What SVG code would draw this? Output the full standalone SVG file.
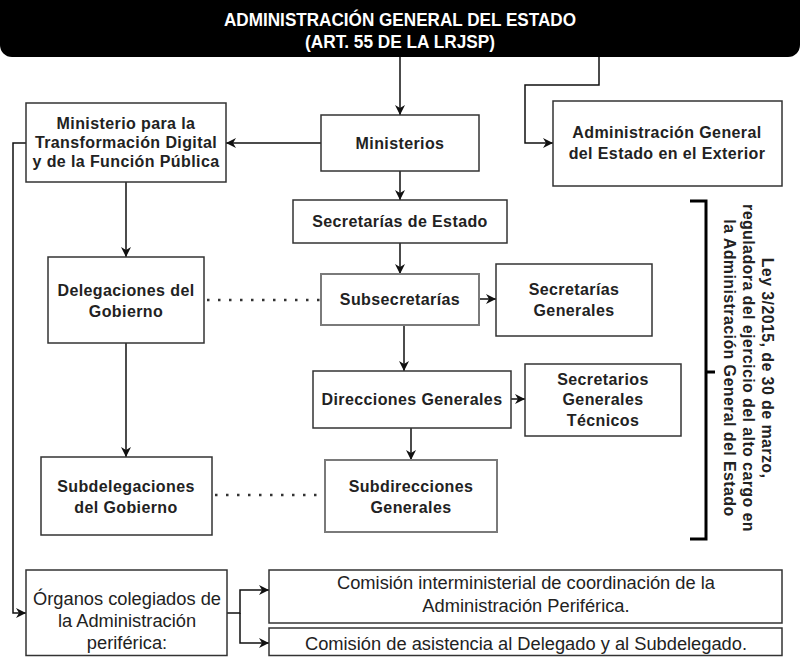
<svg xmlns="http://www.w3.org/2000/svg" width="800" height="657" viewBox="0 0 800 657">
<style>
.box{fill:#fff;stroke:#333;stroke-width:1.5}
.gbox{fill:#fff;stroke:#7a7a7a;stroke-width:2}
.t{font-family:"Liberation Sans",Arial,sans-serif;font-size:16px;font-weight:bold;fill:#222;text-anchor:middle;letter-spacing:0.4px}
.r{font-family:"Liberation Sans",Arial,sans-serif;font-size:18.3px;fill:#222;text-anchor:middle}
.title{font-family:"Liberation Sans",Arial,sans-serif;font-size:19px;font-weight:bold;fill:#fff;text-anchor:middle}
.c{fill:none;stroke:#111;stroke-width:1.5}
.dot{fill:none;stroke:#333;stroke-width:2.5;stroke-dasharray:2.5 8.5}
</style>
<defs>
<marker id="ah" markerUnits="userSpaceOnUse" markerWidth="11" markerHeight="10" refX="10" refY="5" orient="auto">
<path d="M0,0 L10,5 L0,10 L3,5 Z" fill="#111"/>
</marker>
</defs>

<g id="title">
<rect x="0" y="-12" width="800" height="69" rx="12" fill="#000"/>
<text class="title" x="400" y="26" textLength="352" lengthAdjust="spacingAndGlyphs">ADMINISTRACIÓN GENERAL DEL ESTADO</text>
<text class="title" x="400" y="48" textLength="190" lengthAdjust="spacingAndGlyphs">(ART. 55 DE LA LRJSP)</text>
</g>

<g id="connectors">
<path class="c" d="M400,57 V115" marker-end="url(#ah)"/>
<path class="c" d="M599,57 V85 H525 V143 H553" marker-end="url(#ah)"/>
<path class="c" d="M321,143 H226" marker-end="url(#ah)"/>
<path class="c" d="M400,171 V200" marker-end="url(#ah)"/>
<path class="c" d="M400,243 V274" marker-end="url(#ah)"/>
<path class="c" d="M126,182 V257" marker-end="url(#ah)"/>
<path class="c" d="M479,299 H496" marker-end="url(#ah)"/>
<path class="c" d="M404,325 V371" marker-end="url(#ah)"/>
<path class="c" d="M511,399 H525" marker-end="url(#ah)"/>
<path class="c" d="M411,428 V460" stroke="#555" marker-end="url(#ah)"/>
<path class="c" d="M126,343 V457" marker-end="url(#ah)"/>
<path class="dot" d="M207,300 H321"/>
<path class="dot" d="M215,495 H325"/>
<path class="c" d="M26,143 H13 V613 H26" marker-end="url(#ah)"/>
<path class="c" d="M227,613 H240 V590 H269" marker-end="url(#ah)"/>
<path class="c" d="M240,613 V643 H269" marker-end="url(#ah)"/>
</g>

<g id="ministerio-td">
<rect class="box" x="26" y="103" width="200" height="79" stroke="#555"/>
<text class="t" x="126" y="129">Ministerio para la</text>
<text class="t" x="126" y="148">Transformación Digital</text>
<text class="t" x="126" y="167">y de la Función Pública</text>
</g>

<g id="ministerios">
<rect class="box" x="321" y="115" width="158" height="56"/>
<text class="t" x="400" y="149">Ministerios</text>
</g>

<g id="exterior">
<rect class="box" x="553" y="101" width="229" height="85"/>
<text class="t" x="667" y="138">Administración General</text>
<text class="t" x="667" y="159">del Estado en el Exterior</text>
</g>

<g id="sec-estado">
<rect class="box" x="293" y="200" width="214" height="43"/>
<text class="t" x="400" y="227">Secretarías de Estado</text>
</g>

<g id="subsecretarias">
<rect class="gbox" x="321" y="274" width="158" height="51"/>
<text class="t" x="400" y="305">Subsecretarías</text>
</g>

<g id="sec-generales">
<rect class="box" x="496" y="264" width="156" height="72"/>
<text class="t" x="574" y="295">Secretarías</text>
<text class="t" x="574" y="316">Generales</text>
</g>

<g id="delegaciones">
<rect class="box" x="48" y="257" width="156" height="86"/>
<text class="t" x="126" y="296">Delegaciones del</text>
<text class="t" x="126" y="317">Gobierno</text>
</g>

<g id="direcciones">
<rect class="box" x="313" y="371" width="198" height="57"/>
<text class="t" x="412" y="405">Direcciones Generales</text>
</g>

<g id="sec-tecnicos">
<rect class="box" x="525" y="364" width="156" height="72"/>
<text class="t" x="603" y="385">Secretarios</text>
<text class="t" x="603" y="405">Generales</text>
<text class="t" x="603" y="426">Técnicos</text>
</g>

<g id="subdelegaciones">
<rect class="box" x="41" y="457" width="171" height="78"/>
<text class="t" x="126" y="492">Subdelegaciones</text>
<text class="t" x="126" y="513">del Gobierno</text>
</g>

<g id="subdirecciones">
<rect class="gbox" x="325" y="460" width="172" height="72"/>
<text class="t" x="411" y="492">Subdirecciones</text>
<text class="t" x="411" y="513">Generales</text>
</g>

<g id="ley">
<path d="M690,201 H706 V539 H690 M706,372 H715" fill="none" stroke="#000" stroke-width="3"/>
<g transform="translate(762,368) rotate(90)">
<text class="t" x="0" y="0" letter-spacing="0">Ley 3/2015, de 30 de marzo,</text>
<text class="t" x="0" y="19" letter-spacing="0">reguladora del ejercicio del alto cargo en</text>
<text class="t" x="0" y="38" letter-spacing="0">la Administración General del Estado</text>
</g>
</g>

<g id="organos">
<rect class="box" x="26" y="570" width="201" height="85.5"/>
<text class="r" x="127" y="605">Órganos colegiados de</text>
<text class="r" x="127" y="627">la Administración</text>
<text class="r" x="127" y="649">periférica:</text>
</g>

<g id="comision-inter">
<rect class="box" x="269" y="570" width="513" height="53"/>
<text class="r" x="526" y="589">Comisión interministerial de coordinación de la</text>
<text class="r" x="526" y="612">Administración Periférica.</text>
</g>

<g id="comision-asist">
<rect class="box" x="269" y="628" width="513" height="27.5"/>
<text class="r" x="526" y="650">Comisión de asistencia al Delegado y al Subdelegado.</text>
</g>
</svg>
